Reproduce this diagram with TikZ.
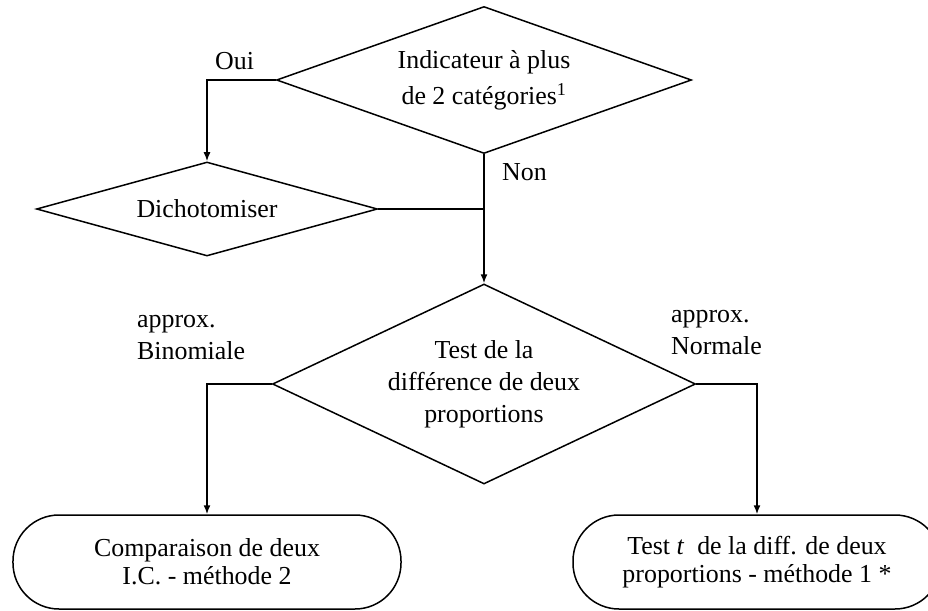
\documentclass[tikz,border=0pt]{standalone}
\usepackage{fontspec}
\setmainfont{Liberation Serif}
\usetikzlibrary{shapes.geometric, arrows.meta, positioning, calc}

\begin{document}
\begin{tikzpicture}[
    x=1bp, y=-1bp,
    every node/.style={font=\fontsize{26}{32}\selectfont},
    decision/.style={diamond, draw, line width=1.5bp, inner sep=0pt, align=center},
    terminal/.style={rectangle, draw, line width=1.5bp, rounded corners=46bp, minimum width=388bp, minimum height=94bp, align=center, font=\fontsize{26}{28}\selectfont},
    branchlabel/.style={inner sep=0pt, align=left},
    arrow/.style={-{Latex[length=9bp,width=7bp]}, line width=1.5bp},
    link/.style={line width=1.5bp}
]
    \clip (0,0) rectangle (928,611);

    \node[decision, aspect=2.82, minimum width=415bp, minimum height=147bp] (indic) at (484,80) {Indicateur à plus\\[4bp]de 2 catégories\textsuperscript{1}};
    \node[decision, aspect=3.63, minimum width=341bp, minimum height=94bp] (dicho) at (207,209) {Dichotomiser};
    \node[decision, aspect=2.1, below=129bp of indic, minimum width=423bp, minimum height=200bp] (test) {Test de la\\différence de deux\\proportions};
    \node[terminal] (compar) at (207,562) {Comparaison de deux\\I.C. - méthode 2};
    \node[terminal, minimum width=368bp] (ttest) at (757,562) {Test \textit{t}\ \ de la diff. de deux\\proportions - méthode 1 *};

    % branch labels
    \node[branchlabel, anchor=base west] (oui) at (215,70) {Oui};
    \node[branchlabel, anchor=base west] (non) at (502,181) {Non};
    \node[branchlabel, anchor=north west] (binom) at (137,315) {approx.\\Binomiale};
    \node[branchlabel, anchor=north west] (normal) at (671,310) {approx.\\Normale};

    \draw[arrow] (indic.west) -| (dicho.north);
    \draw[arrow] (indic.south) -- (test.north);
    \draw[link] (dicho.east) -- (dicho.east -| indic.south);
    \draw[arrow] (test.west) -| (compar.north);
    \draw[arrow] (test.east) -| (ttest.north);
\end{tikzpicture}
\end{document}
